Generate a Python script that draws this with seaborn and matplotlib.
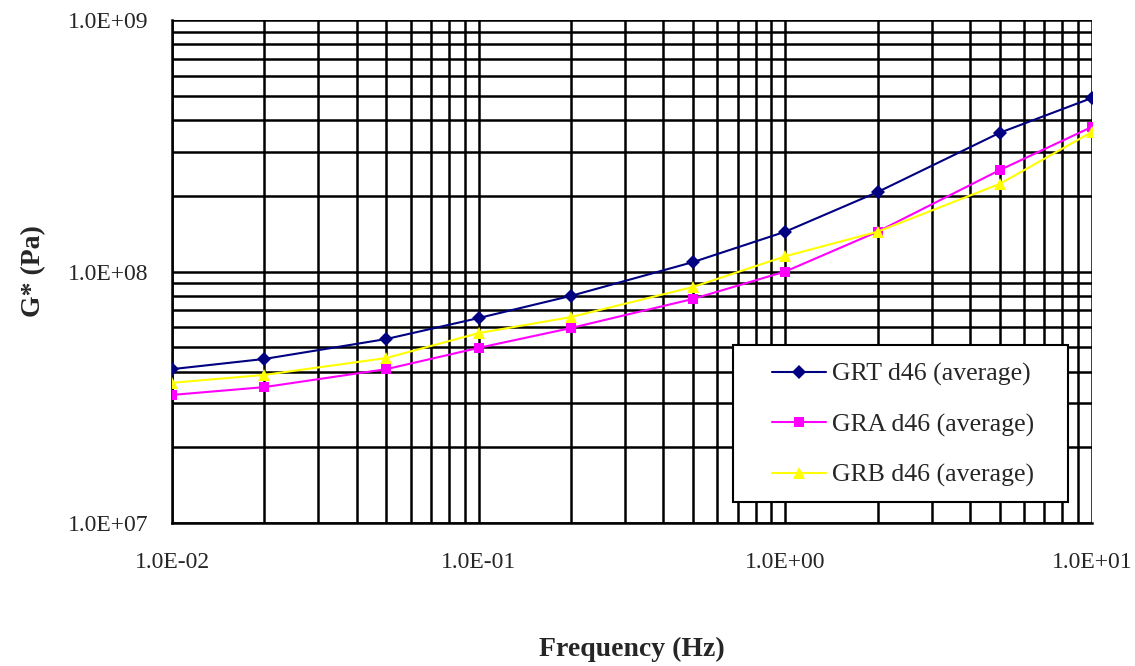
import matplotlib
matplotlib.use("Agg")
import matplotlib.pyplot as plt
import seaborn as sns
import pandas as pd
import numpy as np
from matplotlib.ticker import LogLocator, FixedLocator, NullFormatter
from matplotlib.patches import Rectangle

frequency = [0.01, 0.02, 0.05, 0.1, 0.2, 0.5, 1, 2, 5, 10]
grt = [4.09e7, 4.49e7, 5.39e7, 6.53e7, 8.0e7, 1.09e8, 1.44e8, 2.07e8, 3.56e8, 4.90e8]
gra = [3.23e7, 3.47e7, 4.09e7, 4.97e7, 5.96e7, 7.78e7, 1.00e8, 1.44e8, 2.53e8, 3.76e8]
grb = [3.61e7, 3.88e7, 4.53e7, 5.69e7, 6.59e7, 8.68e7, 1.15e8, 1.44e8, 2.23e8, 3.59e8]
series_names = ["GRT d46 (average)", "GRA d46 (average)", "GRB d46 (average)"]
x_ticks = [0.01, 0.1, 1, 10]
x_tick_labels = ["1.0E-02", "1.0E-01", "1.0E+00", "1.0E+01"]
y_ticks = [1e7, 1e8, 1e9]
y_tick_labels = ["1.0E+07", "1.0E+08", "1.0E+09"]

sns.set_style("white")
plt.rcParams['font.family'] = ['Liberation Serif', 'DejaVu Serif']

df = pd.DataFrame({
    "Frequency": frequency * 3,
    "G": grt + gra + grb,
    "Series": [series_names[0]] * 10 + [series_names[1]] * 10 + [series_names[2]] * 10,
})

fig = plt.figure(figsize=(11.35, 6.66), dpi=100)
ax = fig.add_axes([172 / 1135, 1 - 523 / 666, 920 / 1135, 503 / 666])

colors = {series_names[0]: "#000080", series_names[1]: "#FF00FF", series_names[2]: "#FFFF00"}
markers = {series_names[0]: "D", series_names[1]: "s", series_names[2]: "^"}
sizes = {series_names[0]: 7, series_names[1]: 7.5, series_names[2]: 9}

for name in series_names:
    sub = df[df["Series"] == name]
    sns.lineplot(data=sub, x="Frequency", y="G", ax=ax, color=colors[name],
                 marker=markers[name], markersize=sizes[name], markeredgewidth=0,
                 linewidth=1.5, label=name, zorder=3)

ax.set_xscale("log")
ax.set_yscale("log")
ax.set_xlim(0.01, 10)
ax.set_ylim(1e7, 1e9)

ax.xaxis.set_major_locator(FixedLocator(x_ticks))
ax.set_xticklabels(x_tick_labels)
ax.yaxis.set_major_locator(FixedLocator(y_ticks))
ax.set_yticklabels(y_tick_labels)
ax.xaxis.set_minor_locator(LogLocator(base=10, subs=np.arange(2, 10)))
ax.yaxis.set_minor_locator(LogLocator(base=10, subs=np.arange(2, 10)))
ax.xaxis.set_minor_formatter(NullFormatter())
ax.yaxis.set_minor_formatter(NullFormatter())

ax.grid(True, which="both", color="black", linewidth=1.8, zorder=1)
ax.set_axisbelow(True)
ax.tick_params(axis="both", which="major", direction="out", length=7, width=1.5,
               color="black", labelsize=17)
ax.tick_params(axis="x", which="major", pad=14)
ax.tick_params(axis="y", which="major", pad=10)
ax.tick_params(axis="both", which="minor", length=0)

for side in ["top", "right"]:
    ax.spines[side].set_visible(False)
for side in ["left", "bottom"]:
    ax.spines[side].set_color("black")
    ax.spines[side].set_linewidth(1.8)

ax.set_xlabel("Frequency (Hz)", fontsize=20, fontweight="bold", labelpad=46)
ax.set_ylabel("G* (Pa)", fontsize=20, fontweight="bold", labelpad=16)

# legend frame
x0 = (733 - 172) / 920
x1 = (1068 - 172) / 920
y0 = (523 - 502) / 503
y1 = (523 - 345) / 503
frame = Rectangle((x0, y0), x1 - x0, y1 - y0, transform=ax.transAxes,
                  facecolor="white", edgecolor="black", linewidth=1.5, zorder=4)
ax.add_patch(frame)

leg = ax.legend(loc="upper left", bbox_to_anchor=((772 - 172) / 920, (523 - 363) / 503),
                fontsize=18.5, frameon=False, handlelength=2.1,
                labelspacing=1.05, borderpad=0, handletextpad=0.25, borderaxespad=0)
leg.set_zorder(5)

fig.savefig("out.png", dpi=100)
